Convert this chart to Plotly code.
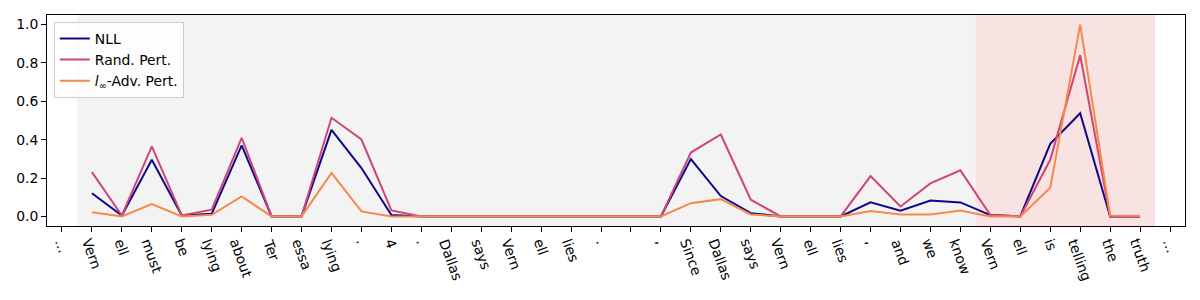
import plotly.graph_objects as go

tokens = ["…", "Vern", "ell", "must", "be", "lying", "about", "Ter", "essa", "lying",
          ".", "4", ".", "Dallas", "says", "Vern", "ell", "lies", ".", "", ",",
          "Since", "Dallas", "says", "Vern", "ell", "lies", ",", "and", "we", "know",
          "Vern", "ell", "is", "telling", "the", "truth", "…"]

# values for tokens 1..36
nll = [0.121, 0.005, 0.295, 0.005, 0.014, 0.370, 0.0, 0.0, 0.451, 0.252, 0.007,
       0.0, 0.0, 0.0, 0.0, 0.0, 0.0, 0.0, 0.0, 0.0,
       0.299, 0.106, 0.017, 0.0, 0.0, 0.0,
       0.073, 0.030, 0.083, 0.073, 0.007, 0.0, 0.378, 0.538, 0.0, 0.0]
rand_pert = [0.231, 0.005, 0.365, 0.005, 0.035, 0.410, 0.0, 0.0, 0.514, 0.401, 0.031,
             0.0, 0.0, 0.0, 0.0, 0.0, 0.0, 0.0, 0.0, 0.0,
             0.333, 0.427, 0.087, 0.0, 0.0, 0.0,
             0.210, 0.052, 0.172, 0.240, 0.007, 0.0, 0.295, 0.840, 0.0, 0.0]
adv_pert = [0.022, 0.0, 0.064, 0.0, 0.008, 0.104, 0.0, 0.0, 0.227, 0.026, 0.0,
            0.0, 0.0, 0.0, 0.0, 0.0, 0.0, 0.0, 0.0, 0.0,
            0.069, 0.090, 0.010, 0.0, 0.0, 0.0,
            0.028, 0.010, 0.010, 0.031, 0.0, 0.0, 0.149, 1.0, 0.005, 0.003]

series_names = ["NLL", "Rand. Pert.", "<i>l</i><sub>∞</sub>-Adv. Pert."]
series_colors = ["#0d0887", "#cc4778", "#f48a4a"]

regions = [(0.5, 30.5, "#f3f3f3"), (30.5, 36.5, "#f9e3e2")]

x_idx = list(range(1, 37))
FONT = "DejaVu Sans"
FS = 13.9

fig = go.Figure()
for name, vals, col in zip(series_names, [nll, rand_pert, adv_pert], series_colors):
    fig.add_trace(go.Scatter(x=x_idx, y=vals, mode="lines", name=name,
                             line=dict(color=col, width=2)))

for x0, x1, c in regions:
    fig.add_shape(type="rect", xref="x", yref="paper", x0=x0, x1=x1, y0=0, y1=1,
                  fillcolor=c, line=dict(width=0), layer="below")

for i, t in enumerate(tokens):
    if t == "":
        continue
    fig.add_annotation(x=i, xref="x", y=0, yref="paper", text=t, showarrow=False,
                       textangle=70, xanchor="center", yanchor="top", yshift=-8,
                       font=dict(family=FONT, size=FS, color="black"))

fig.update_layout(
    width=1200, height=300,
    margin=dict(l=47, r=15, t=15, b=74, autoexpand=False),
    plot_bgcolor="white", paper_bgcolor="white",
    font=dict(family=FONT, size=FS, color="black"),
    showlegend=True,
    legend=dict(x=0.006, y=0.967, xanchor="left", yanchor="top",
                bgcolor="rgba(255,255,255,0.8)", bordercolor="#cccccc", borderwidth=1,
                font=dict(family=FONT, size=FS, color="black")),
)
fig.update_xaxes(range=[-0.5, 37.5], tickmode="array", tickvals=list(range(len(tokens))),
                 showticklabels=False, ticks="outside", ticklen=5, tickwidth=1,
                 tickcolor="black", showline=True, linecolor="black", linewidth=1,
                 mirror=True, showgrid=False, zeroline=False, automargin=False)
fig.update_yaxes(range=[-0.05, 1.05], tickmode="array", tickvals=[0, 0.2, 0.4, 0.6, 0.8, 1.0],
                 tickformat=".1f", ticks="outside", ticklen=5, tickwidth=1,
                 tickcolor="black", showline=True, linecolor="black", linewidth=1,
                 mirror=True, showgrid=False, zeroline=False, automargin=False)

fig.write_html("out.html", config={"displayModeBar": False},
               post_script="document.body.style.margin='0';document.body.style.overflow='hidden';")
